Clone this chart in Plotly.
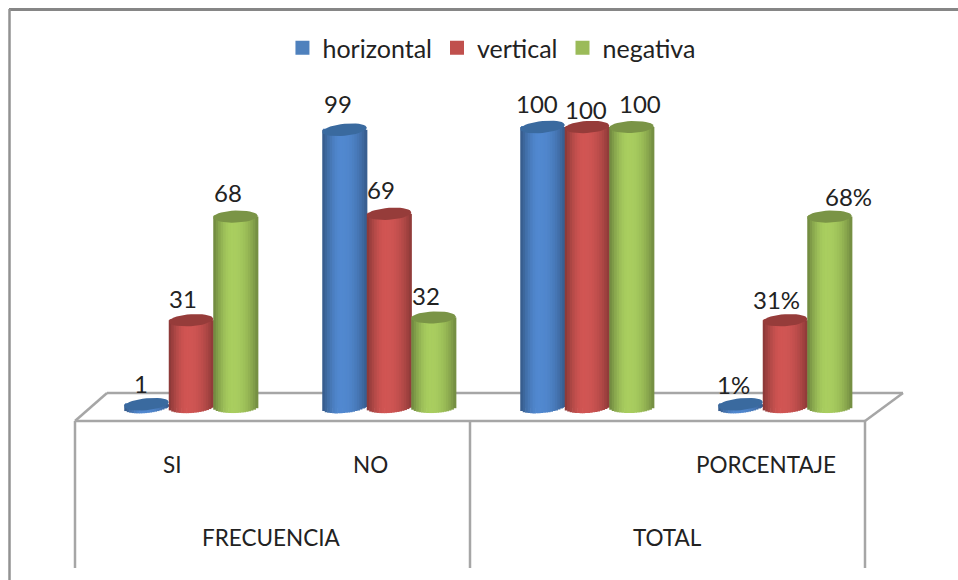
import math
import plotly.graph_objects as go

# ---- data ----
categories = ["SI", "NO", "", "PORCENTAJE"]
groups = ["FRECUENCIA", "TOTAL"]
series_names = ["horizontal", "vertical", "negativa"]
horizontal = [1, 99, 100, 1]
vertical = [31, 69, 100, 31]
negativa = [68, 32, 100, 68]
label_h = ["1", "99", "100", "1%"]
label_v = ["31", "69", "100", "31%"]
label_n = ["68", "32", "100", "68%"]

# ---- style ----
W, H = 958, 580
colors = [(80, 134, 204), (205, 84, 82), (166, 202, 94)]
legend_colors = ["#4F81BD", "#C0504D", "#9BBB59"]
cap_colors = ["#3A6A9F", "#963C3A", "#7A9446"]
label_shift = [
    [(-6, -21), (-7, -26), (-6, -24), (-7, -20)],
    [(-8, -22), (-8, -24), (-1, -18), (-9, -21)],
    [(-8, -24), (-8, -22), (8, -24), (19, -20)],
]
tilt_px = [2.2, 1.5, 0.8]
PX_X = 198.0     # pixels per category
PX_Y = 2.8       # pixels per value unit
X0 = 191.0       # pixel of category 0
Y0 = 407.0       # pixel of value 0
BAR = 44.5 / PX_X
RY = 6.0 / PX_Y  # ellipse half-height in value units
STRIPS = 18
FONT = "Lato, 'Open Sans', sans-serif"
GRAY = "#A6A6A6"

all_values = [horizontal, vertical, negativa]


def shade(c, f):
    return "rgb(%d,%d,%d)" % tuple(min(255, int(v * f)) for v in c)


def brightness(u):
    # u in [-1, 1]: dark edges, light just left of the centre
    if u < -0.15:
        t = (u + 1) / 0.85
        return 0.66 + 0.36 * math.sin(t * math.pi / 2)
    t = (u + 0.15) / 1.15
    return 1.02 - 0.34 * t ** 2.2


fig = go.Figure()
for s, (name, vals) in enumerate(zip(series_names, all_values)):
    off = (s - 1) * BAR
    # plain bar: carries the data and the legend entry
    fig.add_trace(go.Bar(
        x=list(range(len(vals))), y=vals, name=name, width=BAR * 0.92,
        offset=off - BAR * 0.46,
        marker=dict(color=legend_colors[s], line=dict(width=2, color=legend_colors[s])),
        legendgroup=name, hoverinfo="name+y",
    ))
    slope = tilt_px[s] / PX_Y
    # cylinder shading as narrow strips whose ends follow the ellipse
    for k in range(STRIPS):
        u = -1 + (2 * k + 1) / STRIPS
        lo = slope * u - RY * math.sqrt(max(0, 1 - u * u))
        sw = BAR / STRIPS
        fig.add_trace(go.Bar(
            x=list(range(len(vals))), y=[v - lo for v in vals], base=[lo] * len(vals),
            width=sw * 1.25, offset=off + (u - 1 / STRIPS) * BAR / 2,
            marker=dict(color=shade(colors[s], brightness(u)), line_width=0),
            showlegend=False, legendgroup=name, hoverinfo="skip",
        ))

# top ellipses
for s, vals in enumerate(all_values):
    slope = tilt_px[s] / PX_Y
    for i, v in enumerate(vals):
        cx = i + (s - 1) * BAR
        xs, ys = [], []
        for a in range(0, 361, 10):
            c, d = math.cos(math.radians(a)), math.sin(math.radians(a))
            xs.append(cx + c * BAR / 2)
            ys.append(v + slope * c + RY * d)
        fig.add_trace(go.Scatter(
            x=xs, y=ys, mode="lines", fill="toself", fillcolor=cap_colors[s],
            line=dict(width=0, color=cap_colors[s]), showlegend=False, hoverinfo="skip",
        ))


def px(x):
    return x / W


def py(y):
    return 1 - y / H


def line(x0, y0, x1, y1, color=GRAY, width=2.5):
    return dict(type="line", xref="paper", yref="paper", x0=px(x0), y0=py(y0), x1=px(x1), y1=py(y1),
                line=dict(color=color, width=width), layer="below")


shapes = [
    line(9, 9.5, 958, 9.5, "#868686", 3),
    line(9.5, 9, 9.5, 580, "#929292", 2.5),
    line(75, 421, 865, 421),
    line(107, 393, 903, 393),
    line(75, 421, 107, 393),
    line(865, 421, 903, 393),
    line(75, 421, 75, 568),
    line(470, 421, 470, 568),
    line(865, 421, 865, 568),
]

annotations = []
labels = [label_h, label_v, label_n]
for s, (vals, labs) in enumerate(zip(all_values, labels)):
    for i, (v, t) in enumerate(zip(vals, labs)):
        dx, dy = label_shift[s][i]
        annotations.append(dict(x=i + (s - 1) * BAR, y=v, text=t, xref="x", yref="y", showarrow=False,
                                xshift=dx, yshift=-dy, font=dict(family=FONT, size=24, color="#222222")))
for i, c in enumerate(categories):
    if c:
        annotations.append(dict(x=i, y=py(464), xref="x", yref="paper", yanchor="middle", text=c,
                                showarrow=False, xshift=-19,
                                font=dict(family=FONT, size=22.5, color="#222222")))
for i, g in enumerate(groups):
    annotations.append(dict(x=0.5 + 2 * i, y=py(537), xref="x", yref="paper", yanchor="middle", text=g,
                            showarrow=False, xshift=-19,
                            font=dict(family=FONT, size=22.5, color="#222222")))

fig.update_layout(
    width=W, height=H, margin=dict(l=0, r=0, t=0, b=0),
    paper_bgcolor="white", plot_bgcolor="rgba(0,0,0,0)",
    barmode="overlay",
    xaxis=dict(range=[(0 - X0) / PX_X, (W - X0) / PX_X], visible=False, fixedrange=True),
    yaxis=dict(range=[(Y0 - H) / PX_Y, Y0 / PX_Y], visible=False, fixedrange=True),
    shapes=shapes, annotations=annotations,
    legend=dict(orientation="h", x=0.513, xanchor="center", y=py(48), yanchor="middle",
                font=dict(family=FONT, size=25, color="#222222"), itemwidth=30,
                bgcolor="rgba(0,0,0,0)"),
)
fig.write_html("out.html", config={"displayModeBar": False},
               post_script="document.body.style.margin='0';document.body.style.overflow='hidden';")
